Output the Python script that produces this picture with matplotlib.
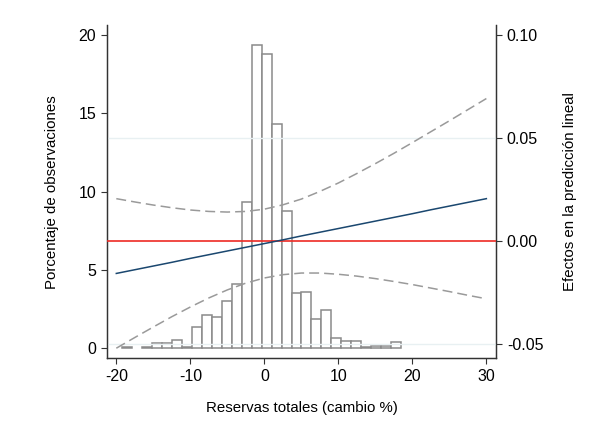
import numpy as np
import matplotlib.pyplot as plt

plt.rcParams['font.family'] = ['Liberation Sans', 'DejaVu Sans']
plt.rcParams['axes.unicode_minus'] = False

# histograma: bordes de las clases y porcentaje de observaciones
bin_edges = [-19.17, -17.83, -16.48, -15.14, -13.79, -12.45, -11.11, -9.76,
             -8.42, -7.07, -5.73, -4.39, -3.04, -1.70, -0.35, 0.99, 2.34,
             3.68, 5.02, 6.37, 7.71, 9.06, 10.40, 11.74, 13.09, 14.43,
             15.78, 17.12, 18.47]
pct = [0.08, 0.0, 0.08, 0.32, 0.32, 0.53, 0.08, 1.38, 2.10, 1.98, 3.04,
       4.10, 9.36, 19.36, 18.79, 14.34, 8.74, 3.51, 3.62, 1.85, 2.45, 0.64,
       0.49, 0.49, 0.08, 0.15, 0.15, 0.40]

# efecto lineal y bandas de confianza
x_fit = [-20, -17.5, -15, -12.5, -10, -7.5, -5, -2.5, 0, 2.5, 5, 7.5, 10,
         12.5, 15, 17.5, 20, 22.5, 25, 27.5, 30]
fit = [-0.0159, -0.0141, -0.0123, -0.0105, -0.0086, -0.0068, -0.0050,
       -0.0032, -0.0014, 0.0004, 0.0023, 0.0041, 0.0059, 0.0077, 0.0095,
       0.0113, 0.0131, 0.0150, 0.0168, 0.0186, 0.0204]
ci_up = [0.0204, 0.0188, 0.0173, 0.0160, 0.0149, 0.0142, 0.0139, 0.0142,
         0.0153, 0.0174, 0.0202, 0.0239, 0.0280, 0.0326, 0.0374, 0.0424,
         0.0476, 0.0529, 0.0582, 0.0636, 0.0690]
ci_lo = [-0.0522, -0.0470, -0.0419, -0.0369, -0.0322, -0.0278, -0.0239,
         -0.0206, -0.0181, -0.0165, -0.0157, -0.0157, -0.0163, -0.0172,
         -0.0184, -0.0198, -0.0213, -0.0230, -0.0247, -0.0265, -0.0282]

right_ticks = [-0.05, 0, 0.05, 0.10]
right_labels = ['-0.05', '0.00', '0.05', '0.10']
grid_vals = [-0.05, 0.05]

fig = plt.figure(figsize=(5.98, 4.41), dpi=100)
ax = fig.add_axes([0.1789, 0.1875, 0.6505, 0.7558])
ax2 = ax.twinx()

edges = np.array(bin_edges)
h = np.array(pct)
keep = h > 0
ax.bar(edges[:-1][keep], h[keep], width=np.diff(edges)[keep], align='edge',
       facecolor='white', edgecolor='#8a8a8a', linewidth=1.1)

# lineas de la rejilla (solo en -0.05 y 0.05)
for g in grid_vals:
    ax2.axhline(g, color='#e8f0f2', linewidth=1.0, zorder=0)

ax2.axhline(0, color='#ee2a24', linewidth=1.2, zorder=3)
ax2.plot(x_fit, ci_up, color='#9a9a9a', linewidth=1.1, dashes=(6.5, 3.3))
ax2.plot(x_fit, ci_lo, color='#9a9a9a', linewidth=1.1, dashes=(6.5, 3.3))
ax2.plot(x_fit, fit, color='#1a476f', linewidth=1.1, zorder=4)

ax.set_xlim(-21.26, 31.3)
ax.set_ylim(-0.64, 20.64)
ax2.set_ylim(-0.0571, 0.1047)

ax.set_xticks([-20, -10, 0, 10, 20, 30])
ax.set_yticks([0, 5, 10, 15, 20])
ax2.set_yticks(right_ticks)
ax2.set_yticklabels(right_labels)

ax.set_zorder(ax2.get_zorder() - 1)
ax2.patch.set_visible(False)

for a in (ax, ax2):
    a.spines['top'].set_visible(False)
    for s in ('left', 'right', 'bottom'):
        a.spines[s].set_color('#333333')
        a.spines[s].set_linewidth(0.9)
    a.tick_params(direction='out', length=4.3, width=0.8, color='#333333',
                  labelsize=11.5, labelcolor='black')

ax.set_xlabel('Reservas totales (cambio %)', fontsize=10.8, labelpad=12)
ax.set_ylabel('Porcentaje de observaciones', fontsize=10.8, labelpad=14)
ax2.set_ylabel('Efectos en la predicción lineal', fontsize=10.8, labelpad=14)

plt.savefig('out.png', dpi=100)
